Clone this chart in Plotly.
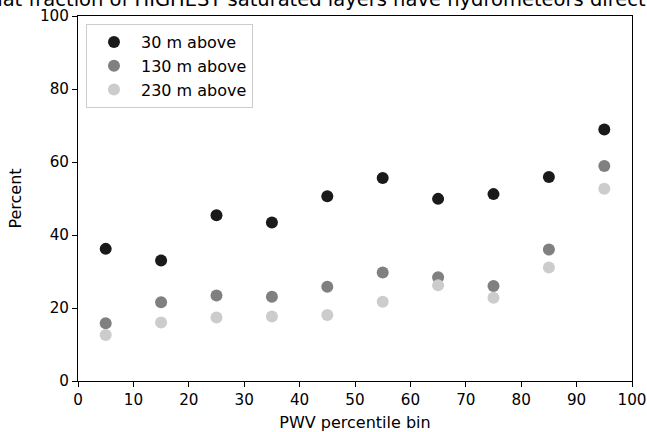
import plotly.graph_objects as go

bins = [5, 15, 25, 35, 45, 55, 65, 75, 85, 95]
above_30 = [36.2, 33.0, 45.4, 43.4, 50.6, 55.6, 49.9, 51.2, 55.9, 68.9]
above_130 = [15.8, 21.6, 23.4, 23.1, 25.8, 29.7, 28.4, 26.0, 36.0, 58.9]
above_230 = [12.6, 16.0, 17.4, 17.7, 18.1, 21.7, 26.2, 22.8, 31.1, 52.7]
names = ["30 m above", "130 m above", "230 m above"]
colors = ["#1a1a1a", "#808080", "#cccccc"]
title = "What fraction of HIGHEST saturated layers have hydrometeors directly above?"

fig = go.Figure()
for name, vals, c in zip(names, [above_30, above_130, above_230], colors):
    fig.add_trace(go.Scatter(x=bins, y=vals, mode="markers", name=name,
                             marker=dict(color=c, size=12, line=dict(width=0))))

axis_common = dict(showline=True, linecolor="black", linewidth=1, mirror=True,
                   ticks="outside", ticklen=5, tickcolor="black", showgrid=False,
                   zeroline=False, automargin=False,
                   tickfont=dict(size=15.2, color="black"))
fig.update_xaxes(range=[0, 100], tick0=0, dtick=10,
                 title=dict(text="PWV percentile bin", font=dict(size=16, color="black"), standoff=9),
                 **axis_common)
fig.update_yaxes(range=[0, 100], tick0=0, dtick=20,
                 title=dict(text="Percent", font=dict(size=16, color="black"), standoff=14),
                 **axis_common)

fig.update_layout(
    width=647, height=432,
    margin=dict(l=78, r=15, t=16, b=51),
    paper_bgcolor="white", plot_bgcolor="white",
    font=dict(family="DejaVu Sans", size=16, color="black"),
    showlegend=True,
    legend=dict(x=0.0144, y=0.978, xanchor="left", yanchor="top",
                bordercolor="#cccccc", borderwidth=1, bgcolor="rgba(255,255,255,0.8)",
                font=dict(size=16), itemwidth=44),
    annotations=[dict(text=title, x=0.5, y=1, xref="paper", yref="paper",
                      xanchor="center", yanchor="bottom", yshift=3, showarrow=False,
                      font=dict(size=19.5, color="black"))],
)

fig.write_html("out.html")
